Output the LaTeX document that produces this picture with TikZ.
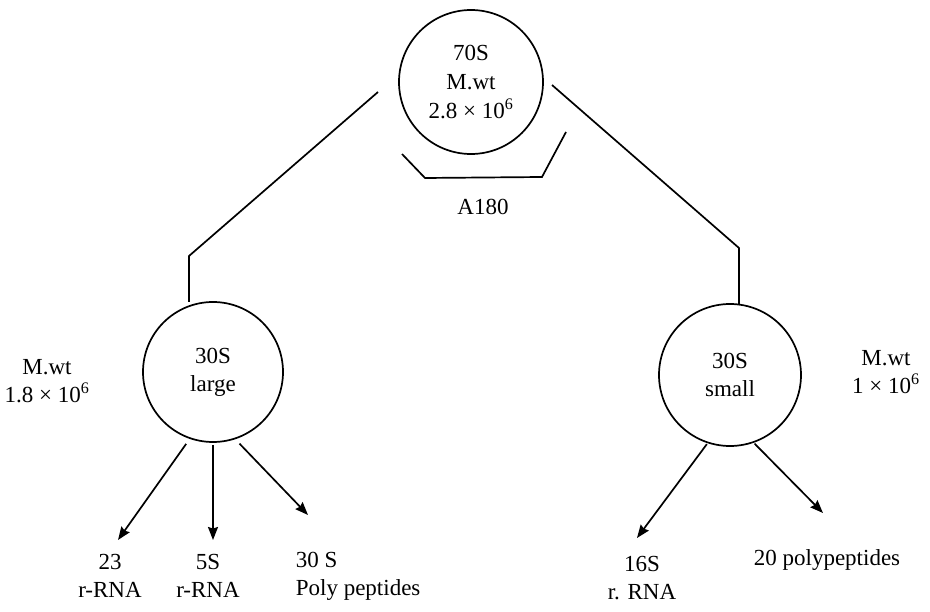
\documentclass[tikz,border=0pt]{standalone}
\usepackage{fontspec}
\setmainfont{Liberation Serif}
\usetikzlibrary{arrows.meta}
\tikzset{
  unit/.style={draw, circle, minimum size=142pt, inner sep=0pt, outer sep=0pt, align=center},
  lbl/.style={align=center, inner sep=0pt},
  arr/.style={-{Stealth[length=13pt,width=10pt,inset=1.5pt]}}
}
\begin{document}
\begin{tikzpicture}[x=1pt, y=-1pt, line width=1.7pt, font=\fontsize{23}{28}\selectfont]
  \useasboundingbox (0,0) rectangle (930,612);
  % ribosome and its two subunits
  \node[unit, minimum size=144pt, font=\fontsize{23}{29}\selectfont] (ribo) at (471,82) {70S\\M.wt\\2.8 × 10\textsuperscript{6}};
  \node[unit, minimum size=140pt] (large) at (213,372) {30S\\large};
  \node[unit] (small) at (730,375) {30S\\small};
  % mass labels
  \node[lbl] (mlarge) at (47,381) {M.wt\\1.8 × 10\textsuperscript{6}};
  \node[lbl] (msmall) at (886,372) {M.wt\\1 × 10\textsuperscript{6}};
  \node[lbl] (sed) at (483,207) {A180};
  % products
  \node[lbl] (r23) at (110,576) {23\\r-RNA};
  \node[lbl] (r5) at (208,576) {5S\\r-RNA};
  \node[lbl, align=left, anchor=west] (poly) at (295,576) {30 S\\Poly peptides};
  \node[lbl] (r16) at (642,578) {16S\\r. RNA};
  \node[lbl] (pep) at (827,560) {20 polypeptides};
  % free ends
  \coordinate (lfree) at (378,92);
  \coordinate (lbend) at (189,256);
  \coordinate (rfree) at (552,85);
  \coordinate (rbend) at (739,248);
  \foreach \name/\x/\y in {t23/118/540, t5/213/540, tpoly/308/515, t16/637/538, tpep/823/513}
    \coordinate (\name) at (\x,\y);
  % split lines
  \draw (lfree) -- (lbend) -- (lbend |- large.north);
  \draw (rfree) -- (rbend) -- (rbend |- small.north);
  % bracket under the 70S
  \draw (402,154) -- (425,178) -- (542,177) -- (566,132);
  % arrows to the parts
  \foreach \src/\ang/\cut/\tip in {large/251/7pt/t23, large/270/3pt/t5, large/288/7pt/tpoly,
                                   small/252/2pt/t16, small/289/2pt/tpep}
    \draw[arr, shorten <=\cut] (\src.\ang) -- (\tip);
\end{tikzpicture}
\end{document}
